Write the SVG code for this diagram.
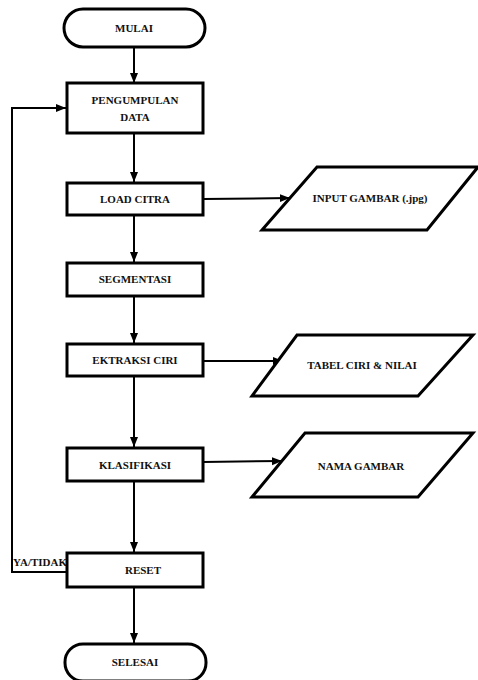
<svg xmlns="http://www.w3.org/2000/svg" width="478" height="680" viewBox="0 0 478 680">
<style>
.box{fill:#fff;stroke:#000;stroke-width:3}
.conn{fill:none;stroke:#000;stroke-width:2}
.t{font-family:'Liberation Serif','DejaVu Serif',serif;font-weight:bold;font-size:11px;fill:#111;text-anchor:middle}
</style>
<defs>
<marker id="ah" viewBox="0 0 10 10" refX="10" refY="5" markerWidth="5" markerHeight="5" orient="auto" markerUnits="strokeWidth">
<path d="M0,1 L10,5 L0,9 z" fill="#000"/>
</marker>
</defs>
<rect width="478" height="680" fill="#fff"/>
<g id="connectors">
<line class="conn" x1="134" y1="47" x2="134" y2="83" marker-end="url(#ah)"/>
<line class="conn" x1="134" y1="133" x2="134" y2="182" marker-end="url(#ah)"/>
<line class="conn" x1="134" y1="215" x2="134" y2="262" marker-end="url(#ah)"/>
<line class="conn" x1="134" y1="296" x2="134" y2="343" marker-end="url(#ah)"/>
<line class="conn" x1="134" y1="376" x2="134" y2="447" marker-end="url(#ah)"/>
<line class="conn" x1="134" y1="481" x2="134" y2="552" marker-end="url(#ah)"/>
<line class="conn" x1="134" y1="587" x2="134" y2="643" marker-end="url(#ah)"/>
<line class="conn" x1="203" y1="199" x2="290" y2="198" marker-end="url(#ah)"/>
<line class="conn" x1="203" y1="361" x2="283" y2="361" marker-end="url(#ah)"/>
<line class="conn" x1="203" y1="462" x2="282" y2="461" marker-end="url(#ah)"/>
<polyline class="conn" points="67,572 12,572 12,108 66,108" marker-end="url(#ah)"/>
<text class="t" x="40" y="566">YA/TIDAK</text>
</g>
<g id="mulai"><rect class="box" x="64" y="9" width="141" height="38" rx="19"/><text class="t" x="134" y="32">MULAI</text></g>
<g id="pengumpulan"><rect class="box" x="67" y="83" width="136" height="50"/><text class="t" x="135" y="104">PENGUMPULAN</text><text class="t" x="135" y="121">DATA</text></g>
<g id="load"><rect class="box" x="67" y="183" width="136" height="32"/><text class="t" x="135" y="203">LOAD CITRA</text></g>
<g id="segmentasi"><rect class="box" x="67" y="263" width="136" height="33"/><text class="t" x="135" y="283">SEGMENTASI</text></g>
<g id="ekstraksi"><rect class="box" x="67" y="344" width="136" height="32"/><text class="t" x="135" y="364">EKTRAKSI CIRI</text></g>
<g id="klasifikasi"><rect class="box" x="67" y="448" width="136" height="33"/><text class="t" x="135" y="469">KLASIFIKASI</text></g>
<g id="reset"><rect class="box" x="67" y="553" width="136" height="34"/><text class="t" x="143" y="574">RESET</text></g>
<g id="selesai"><rect class="box" x="65" y="644" width="141" height="37" rx="18"/><text class="t" x="135" y="666">SELESAI</text></g>
<g id="input"><polygon class="box" points="317,167 478,167 427,230 262,230"/><text class="t" x="370" y="202">INPUT GAMBAR (.jpg)</text></g>
<g id="tabel"><polygon class="box" points="297,335 473,335 418,396 252,396"/><text class="t" x="362" y="369">TABEL CIRI &amp; NILAI</text></g>
<g id="nama"><polygon class="box" points="305,433 473,433 418,497 252,497"/><text class="t" x="361" y="470">NAMA GAMBAR</text></g>
</svg>
